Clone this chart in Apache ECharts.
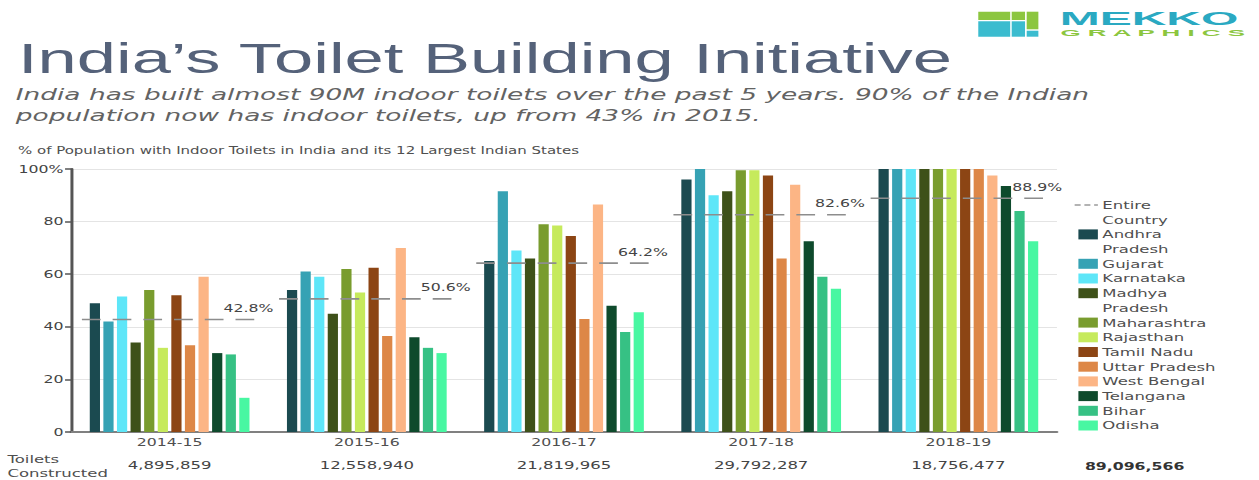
<!DOCTYPE html>
<html>
<head>
<meta charset="utf-8">
<title>India's Toilet Building Initiative</title>
<script src="https://cdn.jsdelivr.net/npm/echarts/dist/echarts.min.js"></script>
<style>
  html, body { margin: 0; padding: 0; background: #ffffff; overflow: hidden; }
  /* the layout is drawn at 840px and widened to the full 1259px page */
  #chart { width: 840px; height: 480px; transform: scaleX(1.49881); transform-origin: 0 0; }
</style>
</head>
<body>
<div id="chart"></div>
<script>
// Fiscal years on the category axis
const years = ['2014-15', '2015-16', '2016-17', '2017-18', '2018-19'];

// Toilets constructed per year, and the total
const toiletsBuilt = ['4,895,859', '12,558,940', '21,819,965', '29,792,287', '18,756,477'];
const toiletsTotal = '89,096,566';

// % of population with indoor toilets, whole country
const entireCountry = [42.8, 50.6, 64.2, 82.6, 88.9];

// % of population with indoor toilets, by state
const andhraPradesh = [49, 54, 65, 96, 100];
const gujarat       = [42, 61, 91.5, 100, 100];
const karnataka     = [51.5, 59, 69, 90, 100];
const madhyaPradesh = [34, 45, 66, 91.5, 100];
const maharashtra   = [54, 62, 79, 99.5, 100];
const rajasthan     = [32, 53, 78.5, 99.5, 100];
const tamilNadu     = [52, 62.5, 74.5, 97.5, 100];
const uttarPradesh  = [33, 36.5, 43, 66, 100];
const westBengal    = [59, 70, 86.5, 94, 97.5];
const telangana     = [30, 36, 48, 72.5, 93.5];
const bihar         = [29.5, 32, 38, 59, 84];
const odisha        = [13, 30, 45.5, 54.5, 72.5];

const stateNames = ['Andhra Pradesh', 'Gujarat', 'Karnataka', 'Madhya Pradesh', 'Maharashtra',
  'Rajasthan', 'Tamil Nadu', 'Uttar Pradesh', 'West Bengal', 'Telangana', 'Bihar', 'Odisha'];
const stateValues = [andhraPradesh, gujarat, karnataka, madhyaPradesh, maharashtra,
  rajasthan, tamilNadu, uttarPradesh, westBengal, telangana, bihar, odisha];
const stateColors = ['#1b4a50', '#36a2b4', '#5ee6f8', '#3e5119', '#799c2e', '#c6ea5c',
  '#8c4514', '#dd8747', '#fcb585', '#0e4a2c', '#36c184', '#48f7a2'];

// Legend wording (long names wrap onto two lines)
const countryLegendLabel = 'Entire\nCountry';
const stateLegendLabels = ['Andhra\nPradesh', 'Gujarat', 'Karnataka', 'Madhya\nPradesh', 'Maharashtra',
  'Rajasthan', 'Tamil Nadu', 'Uttar Pradesh', 'West Bengal', 'Telangana', 'Bihar', 'Odisha'];

const SMALL = "'DejaVu Sans', Verdana, sans-serif";
const HEAD = "'Liberation Sans', Arial, Helvetica, sans-serif";
const TEXT_GRAY = '#4f4f4f';

const chart = echarts.init(document.getElementById('chart'), null, { renderer: 'svg', width: 840, height: 480 });

// Bars, one series per state
const barSeries = stateNames.map((name, i) => ({
  name: name,
  type: 'bar',
  data: stateValues[i],
  barGap: '33%',
  barCategoryGap: '19%',
  itemStyle: { color: stateColors[i] },
  emphasis: { disabled: true },
  z: 2
}));

// Whole-country level: a dashed rule across each year's group, with its value
const countrySeries = {
  name: 'Entire Country',
  type: 'custom',
  data: entireCountry.map((v, i) => [i, v]),
  encode: { x: 0, y: 1 },
  z: 5,
  renderItem: function (params, api) {
    const p = api.coord([api.value(0), api.value(1)]);
    const band = api.size([1, 0])[0];
    return {
      type: 'group',
      children: [
        {
          type: 'line',
          shape: { x1: p[0] - band * 0.445, y1: p[1], x2: p[0] + band * 0.445, y2: p[1] },
          style: { stroke: '#8d8d8d', lineWidth: 1.6, lineDash: [12.5, 8] }
        },
        {
          type: 'text',
          style: {
            text: api.value(1).toFixed(1) + '%',
            x: p[0] + band * 0.4,
            y: p[1] - 11,
            align: 'center',
            verticalAlign: 'middle',
            font: '10.5px ' + SMALL,
            fill: '#444444'
          }
        }
      ]
    };
  }
};

// Hand-built legend on the right
const legendGraphics = [];
(function () {
  const pitch = 14.7;
  const iconX = 719.5, textX = 735.5;
  let y = 205;
  const labelFont = '11px ' + SMALL;
  legendGraphics.push({
    type: 'line', silent: true,
    shape: { x1: 717, y1: y, x2: 732.5, y2: y },
    style: { stroke: '#9a9a9a', lineWidth: 1.6, lineDash: [4, 2.5] }
  });
  legendGraphics.push({
    type: 'text', silent: true, x: textX, y: y - pitch / 2,
    style: { text: countryLegendLabel, font: labelFont, fill: TEXT_GRAY, lineHeight: pitch, verticalAlign: 'top' }
  });
  y += pitch * countryLegendLabel.split('\n').length;
  stateLegendLabels.forEach((label, i) => {
    legendGraphics.push({
      type: 'rect', silent: true,
      shape: { x: iconX, y: y - 5, width: 13, height: 10 },
      style: { fill: stateColors[i] }
    });
    legendGraphics.push({
      type: 'text', silent: true, x: textX, y: y - pitch / 2,
      style: { text: label, font: labelFont, fill: TEXT_GRAY, lineHeight: pitch, verticalAlign: 'top' }
    });
    y += pitch * label.split('\n').length;
  });
})();

// Brand mark, top right
const logoGraphics = [
  { type: 'rect', silent: true, shape: { x: 652.7, y: 11.7, width: 21.3, height: 8.3 }, style: { fill: '#8cc63f' } },
  { type: 'rect', silent: true, shape: { x: 675.0, y: 11.7, width: 8.9, height: 8.3 }, style: { fill: '#8cc63f' } },
  { type: 'rect', silent: true, shape: { x: 685.0, y: 11.7, width: 7.8, height: 17.6 }, style: { fill: '#8cc63f' } },
  { type: 'rect', silent: true, shape: { x: 652.7, y: 21.3, width: 21.3, height: 15.4 }, style: { fill: '#3bbccf' } },
  { type: 'rect', silent: true, shape: { x: 675.0, y: 21.3, width: 8.9, height: 15.4 }, style: { fill: '#3bbccf' } },
  { type: 'rect', silent: true, shape: { x: 685.0, y: 30.7, width: 7.8, height: 6.0 }, style: { fill: '#3bbccf' } },
  { type: 'text', silent: true, x: 707, y: 18.7, scaleX: 1.78,
    style: { text: 'MEKKO', font: 'bold 18px ' + HEAD, fill: '#2aa9c2', verticalAlign: 'middle' } },
  { type: 'text', silent: true, x: 707.5, y: 32.3, scaleX: 1.92,
    style: { text: 'G R A P H I C S', font: 'bold 9px ' + HEAD, fill: '#8cc63f', verticalAlign: 'middle' } }
];

const textGraphics = [
  { type: 'text', silent: true, x: 12, y: 57.7, scaleX: 1.12,
    style: { text: "India\u2019s Toilet Building Initiative", font: '42px ' + HEAD, fill: '#55627a', verticalAlign: 'middle' } },
  { type: 'text', silent: true, x: 10.5, y: 105.5, scaleX: 1.175,
    style: {
      text: 'India has built almost 90M indoor toilets over the past 5 years. 90% of the Indian\npopulation now has indoor toilets, up from 43% in 2015.',
      font: 'italic 15px ' + SMALL, fill: '#636363', lineHeight: 21, verticalAlign: 'middle'
    } },
  { type: 'text', silent: true, x: 12, y: 150,
    style: { text: '% of Population with Indoor Toilets in India and its 12 Largest Indian States', font: '10px ' + SMALL, fill: TEXT_GRAY, verticalAlign: 'middle' } },
  { type: 'text', silent: true, x: 5, y: 466,
    style: { text: 'Toilets\nConstructed', font: '11px ' + SMALL, fill: TEXT_GRAY, lineHeight: 14, verticalAlign: 'middle' } },
  { type: 'text', silent: true, x: 757, y: 466.5,
    style: { text: toiletsTotal, font: 'bold 10.5px ' + SMALL, fill: '#333333', align: 'center', verticalAlign: 'middle' } }
];

chart.setOption({
  animation: false,
  backgroundColor: '#ffffff',
  grid: { left: 47.4, right: 134.8, top: 169, bottom: 48, containLabel: false },
  xAxis: [
    {
      type: 'category',
      data: years,
      axisLine: { show: true, lineStyle: { color: '#808080', width: 2 } },
      axisTick: { show: false },
      axisLabel: { margin: 4.5, color: TEXT_GRAY, fontFamily: SMALL, fontSize: 10.5 },
      splitLine: { show: false }
    },
    {
      type: 'category',
      position: 'bottom',
      offset: 23,
      data: toiletsBuilt,
      axisLine: { show: false },
      axisTick: { show: false },
      axisLabel: { margin: 4.5, color: '#444444', fontFamily: SMALL, fontSize: 11 },
      splitLine: { show: false }
    }
  ],
  yAxis: {
    type: 'value',
    min: 0,
    max: 100,
    interval: 20,
    axisLine: { show: true, lineStyle: { color: '#555555', width: 2 } },
    axisTick: { show: true, length: 4, lineStyle: { color: '#555555', width: 1.5 } },
    axisLabel: {
      margin: 5, color: '#444444', fontFamily: SMALL, fontSize: 10.5,
      formatter: v => (v === 100 ? '100%' : String(v))
    },
    splitLine: { show: true, lineStyle: { color: '#e4e4e4', width: 1 } }
  },
  legend: { show: false },
  tooltip: { show: false },
  series: barSeries.concat([countrySeries]),
  graphic: textGraphics.concat(logoGraphics, legendGraphics)
});
</script>
</body>
</html>
